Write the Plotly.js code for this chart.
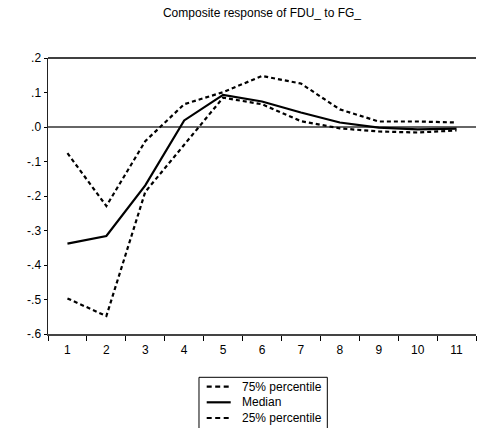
<!DOCTYPE html>
<html>
<head>
<meta charset="utf-8">
<script src="https://cdn.plot.ly/plotly-3.0.1.min.js"></script>
<style>html,body{margin:0;padding:0;background:#fff;}#chart{width:477px;height:428px;}</style>
</head>
<body>
<div id="chart"></div>
<script>
// Periods
const periods = [1, 2, 3, 4, 5, 6, 7, 8, 9, 10, 11];
// Series values
const p75 = [-0.076, -0.229, -0.041, 0.066, 0.101, 0.148, 0.126, 0.051, 0.016, 0.016, 0.013];
const median = [-0.338, -0.316, -0.169, 0.019, 0.093, 0.074, 0.042, 0.013, -0.002, -0.007, -0.005];
const p25 = [-0.497, -0.548, -0.188, -0.050, 0.085, 0.066, 0.017, -0.004, -0.013, -0.016, -0.010];
// Axis ticks
const yTickVals = [0.2, 0.1, 0.0, -0.1, -0.2, -0.3, -0.4, -0.5, -0.6];
const yTickText = ['.2', '.1', '.0', '-.1', '-.2', '-.3', '-.4', '-.5', '-.6'];
const seriesNames = ['75% percentile', 'Median', '25% percentile'];
const seriesDash = ['5px,3.5px', 'solid', '5px,3.5px'];

const font = {family: 'Liberation Sans, Arial, sans-serif', size: 12, color: '#000'};

const traces = [
  {x: periods, y: p75, name: seriesNames[0], mode: 'lines', line: {color: '#000', width: 2.2, dash: '4px,3px'}},
  {x: periods, y: median, name: seriesNames[1], mode: 'lines', line: {color: '#000', width: 2.2}},
  {x: periods, y: p25, name: seriesNames[2], mode: 'lines', line: {color: '#000', width: 2.2, dash: '4px,3px'}}
];

// Legend box (the reference legend has tightly spaced rows, drawn here as a boxed key)
const legX0 = 0.3528, legX1 = 0.6526, legTop = -0.1569, legBottom = -0.355;
const keyX0 = 0.3708, keyX1 = 0.4269, textX = 0.4486;
const rowY = [-0.1909, -0.2475, -0.3043];

const shapes = [
  {type: 'line', xref: 'paper', yref: 'paper', x0: 0, x1: 1, y0: 1, y1: 1, line: {color: '#000', width: 1.5}},
  {type: 'rect', xref: 'paper', yref: 'paper', x0: legX0, x1: legX1, y0: legBottom, y1: legTop, line: {color: '#000', width: 1}, fillcolor: '#fff'}
];
const annotations = [];
seriesNames.forEach((name, i) => {
  shapes.push({type: 'line', xref: 'paper', yref: 'paper', x0: keyX0, x1: keyX1, y0: rowY[i], y1: rowY[i],
    line: {color: '#000', width: 2.2, dash: seriesDash[i]}});
  annotations.push({xref: 'paper', yref: 'paper', x: textX, y: rowY[i], xanchor: 'left', yanchor: 'middle',
    text: name, showarrow: false, font: font});
});

const layout = {
  width: 477, height: 428,
  margin: {l: 48, r: 1, t: 58, b: 94, autoexpand: false},
  paper_bgcolor: '#fff', plot_bgcolor: '#fff',
  font: font,
  showlegend: false,
  title: {text: 'Composite response of FDU_ to FG_', font: {family: font.family, size: 12, color: '#000'}, x: 0.5, xref: 'paper', xanchor: 'center', y: 0.971, yref: 'container', yanchor: 'middle'},
  xaxis: {
    range: [0.5, 11.5], tickvals: periods, ticktext: periods.map(String),
    ticks: 'outside', ticklen: 4, tickcolor: 'rgba(0,0,0,0)', showgrid: false, zeroline: false,
    showline: true, linecolor: '#444', linewidth: 1.5,
    minor: {tick0: 0.5, dtick: 1, ticks: 'outside', ticklen: 5, tickcolor: '#000', tickwidth: 1, showgrid: false},
    tickfont: font, fixedrange: true
  },
  yaxis: {
    range: [-0.6, 0.2], tickvals: yTickVals, ticktext: yTickText,
    ticks: 'outside', ticklen: 3, tickcolor: '#000', tickwidth: 1,
    showgrid: false, zeroline: true, zerolinecolor: '#666', zerolinewidth: 1.5,
    showline: true, linecolor: '#222', linewidth: 1.5,
    tickfont: font, fixedrange: true
  },
  shapes: shapes,
  annotations: annotations
};

Plotly.newPlot('chart', traces, layout, {displayModeBar: false, staticPlot: true});
</script>
</body>
</html>
